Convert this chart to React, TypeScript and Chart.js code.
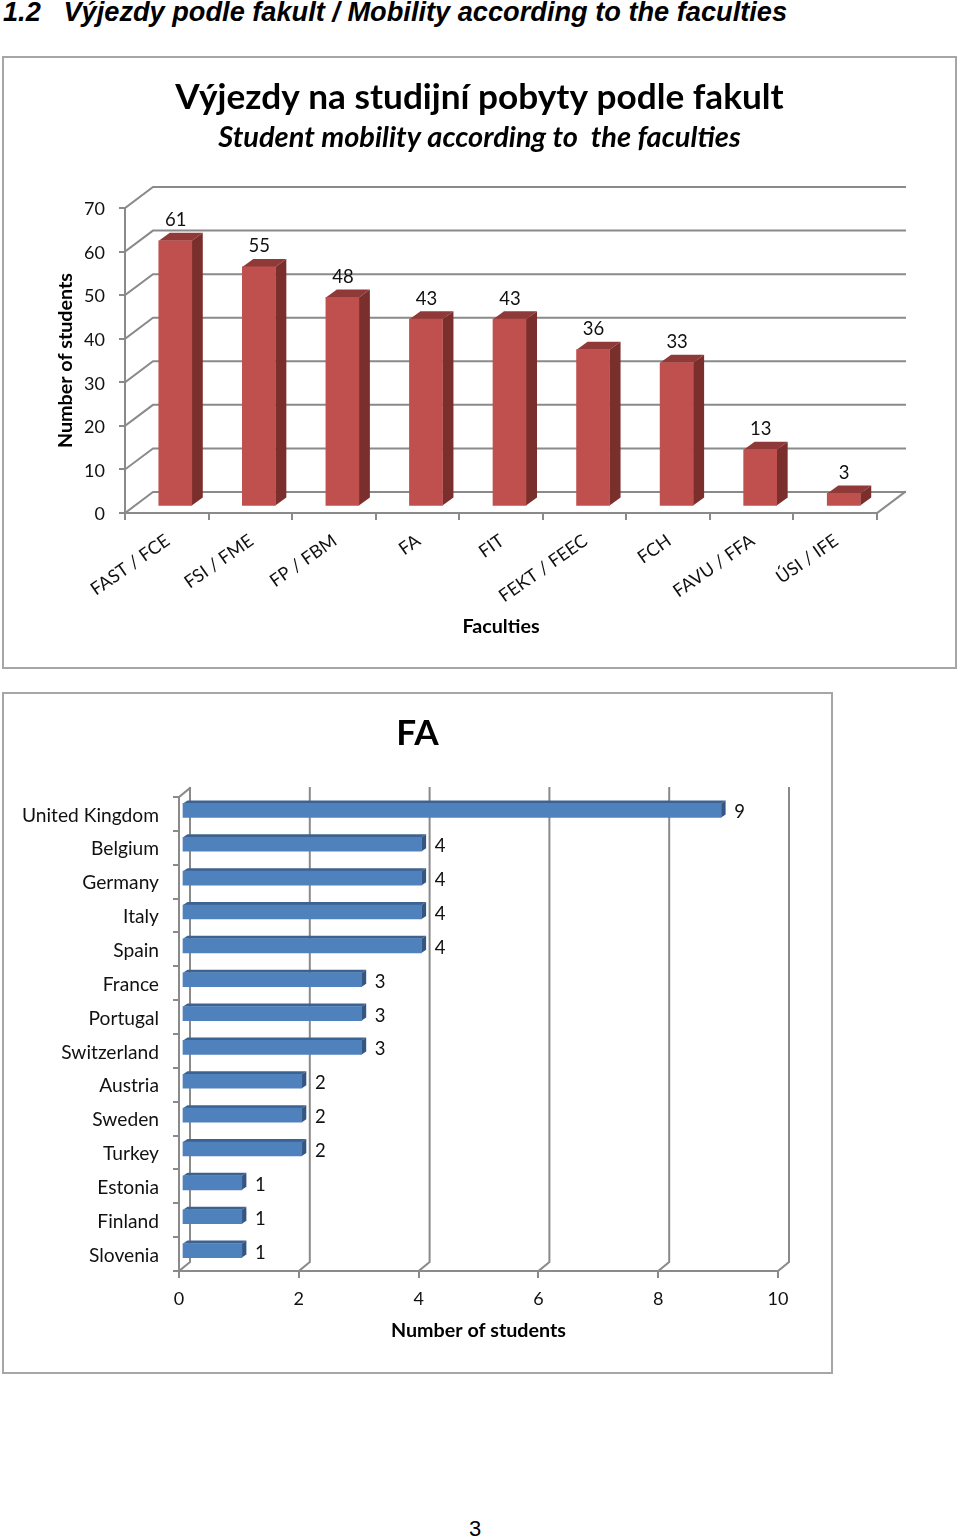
import React, { useEffect, useRef } from "react";
import { Chart, registerables } from "chart.js";

Chart.register(...registerables);

const facultyLabels = ["FAST / FCE", "FSI / FME", "FP / FBM", "FA", "FIT", "FEKT / FEEC", "FCH", "FAVU / FFA", "ÚSI / IFE"];
const facultyValues = [61, 55, 48, 43, 43, 36, 33, 13, 3];
const countryLabels = ["United Kingdom", "Belgium", "Germany", "Italy", "Spain", "France", "Portugal", "Switzerland", "Austria", "Sweden", "Turkey", "Estonia", "Finland", "Slovenia"];
const countryValues = [9, 4, 4, 4, 4, 3, 3, 3, 2, 2, 2, 1, 1, 1];
const mainTitle = "Výjezdy na studijní pobyty podle fakult";
const subTitle = "Student mobility according to  the faculties";
const secondTitle = "FA";
const headingText = "1.2   Výjezdy podle fakult / Mobility according to the faculties";

const FONT = "Lato, Carlito, sans-serif";
const GRID = "#8a8a8a";
const FRAME = "#a6a6a6";

type Look = {
  wall: [number, number];
  shift: [number, number];
  depth: [number, number];
  top: string;
  side: string;
  label: [number, number];
  labelFont: string;
};

const look3d = {
  id: "look3d",
  beforeDatasetsDraw(chart: any, _a: any, o: Look) {
    const { ctx, chartArea: ca, scales } = chart;
    const [wx, wy] = o.wall;
    ctx.save();
    ctx.strokeStyle = GRID;
    ctx.lineWidth = 2;
    ctx.lineCap = "square";
    const line = (pts: number[][]) => {
      ctx.beginPath();
      pts.forEach((p, i) => (i ? ctx.lineTo(p[0], p[1]) : ctx.moveTo(p[0], p[1])));
      ctx.stroke();
    };
    if (chart.options.indexAxis === "y") {
      scales.x.ticks.forEach((_t: any, i: number) => {
        const x = scales.x.getPixelForTick(i);
        line([[x, ca.bottom], [x + wx, ca.bottom + wy], [x + wx, ca.top + wy]]);
      });
      line([[ca.left, ca.top], [ca.left + wx, ca.top + wy]]);
    } else {
      scales.y.ticks.forEach((_t: any, i: number) => {
        const y = scales.y.getPixelForTick(i);
        line([[ca.left, y], [ca.left + wx, y + wy], [ca.right + wx, y + wy]]);
      });
      line([[ca.right, ca.bottom], [ca.right + wx, ca.bottom + wy]]);
    }
    ctx.restore();
  },
  beforeDatasetDraw(chart: any, args: any, o: Look) {
    const ctx = chart.ctx;
    const [dx, dy] = o.depth;
    ctx.save();
    ctx.translate(o.shift[0], o.shift[1]);
    args.meta.data.forEach((el: any) => {
      const p = el.getProps(["x", "y", "base", "width", "height"], true);
      const h = chart.options.indexAxis === "y";
      const l = h ? p.base : p.x - p.width / 2;
      const r = h ? p.x : p.x + p.width / 2;
      const t = h ? p.y - p.height / 2 : p.y;
      const b = h ? p.y + p.height / 2 : p.base;
      ctx.fillStyle = o.top;
      ctx.beginPath();
      ctx.moveTo(l, t);
      ctx.lineTo(l + dx, t + dy);
      ctx.lineTo(r + dx, t + dy);
      ctx.lineTo(r, t);
      ctx.closePath();
      ctx.fill();
      ctx.fillStyle = o.side;
      ctx.beginPath();
      ctx.moveTo(r, t);
      ctx.lineTo(r + dx, t + dy);
      ctx.lineTo(r + dx, b + dy);
      ctx.lineTo(r, b);
      ctx.closePath();
      ctx.fill();
    });
  },
  afterDatasetDraw(chart: any, args: any, o: Look) {
    const ctx = chart.ctx;
    ctx.restore();
    ctx.save();
    ctx.fillStyle = "#111";
    ctx.font = o.labelFont;
    ctx.textAlign = "center";
    ctx.textBaseline = "middle";
    const values = chart.data.datasets[args.index].data;
    args.meta.data.forEach((el: any, i: number) => {
      const p = el.getProps(["x", "y"], true);
      ctx.fillText(String(values[i]), p.x + o.label[0], p.y + o.label[1]);
    });
    ctx.restore();
  },
};

function useChart(make: (c: HTMLCanvasElement) => Chart) {
  const ref = useRef<HTMLCanvasElement | null>(null);
  useEffect(() => {
    const chart = make(ref.current!);
    return () => chart.destroy();
  }, []);
  return ref;
}

const tickFont = { family: FONT, size: 18 };
const nameFont = { family: FONT, size: 19.2 };
const axisTitleFont = { family: FONT, size: 19.7, weight: "bold" as const };

const spacer = (width: number) => ({
  type: "linear",
  position: "right",
  afterFit: (s: any) => { s.width = width; },
  border: { display: false },
  grid: { display: false },
  ticks: { display: false },
});

function makeFaculties(canvas: HTMLCanvasElement) {
  return new Chart(canvas, {
    type: "bar",
    data: {
      labels: facultyLabels,
      datasets: [{ data: facultyValues, backgroundColor: "#c0504d", barThickness: 33, clip: false } as any],
    },
    plugins: [look3d],
    options: {
      animation: false,
      responsive: false,
      layout: { padding: { left: 0, right: 0, top: 0, bottom: 30 } },
      plugins: {
        legend: { display: false },
        tooltip: { enabled: false },
        title: { display: true, text: mainTitle, color: "#000", font: { family: FONT, size: 35.2, weight: "bold" }, padding: { top: 20, bottom: 0 } },
        subtitle: { display: true, text: subTitle, color: "#000", font: { family: FONT, size: 29, weight: "bold", style: "italic" }, padding: { top: 1.4, bottom: 52.6 } },
        look3d: {
          wall: [28, -21], shift: [8.5, -6.5], depth: [11, -8], top: "#8f3a38", side: "#7b2f2d",
          label: [9, -27], labelFont: `18.5px ${FONT}`,
        },
      } as any,
      scales: {
        x: {
          afterFit: (s: any) => { s.height = 125; },
          border: { color: GRID, width: 2 },
          grid: { drawOnChartArea: false, color: GRID, lineWidth: 2, tickLength: 7 },
          ticks: { color: "#111", font: tickFont, autoSkip: false, minRotation: 35, maxRotation: 35, padding: 10, labelOffset: 1 },
          title: { display: true, text: "Faculties", color: "#000", font: axisTitleFont, padding: 0 },
        },
        y: {
          min: 0, max: 70,
          afterFit: (s: any) => { s.width = 122; },
          border: { color: GRID, width: 2 },
          grid: { drawOnChartArea: false, color: GRID, lineWidth: 2, tickLength: 6 },
          ticks: { color: "#111", font: tickFont, stepSize: 10, padding: 14, labelOffset: 1.5 },
          title: { display: true, text: "Number of students", color: "#000", font: axisTitleFont, padding: { top: 51, bottom: 0 } },
        },
        y2: spacer(79),
      },
    } as any,
  });
}

function makeCountries(canvas: HTMLCanvasElement) {
  return new Chart(canvas, {
    type: "bar",
    data: {
      labels: countryLabels,
      datasets: [{ data: countryValues, backgroundColor: "#4f81bd", barThickness: 14, clip: false } as any],
    },
    plugins: [look3d],
    options: {
      indexAxis: "y",
      animation: false,
      responsive: false,
      layout: { padding: { left: 0, right: 0, top: 0, bottom: 31 } },
      plugins: {
        legend: { display: false },
        tooltip: { enabled: false },
        title: { display: true, text: secondTitle, color: "#000", font: { family: FONT, size: 35.2, weight: "bold" }, padding: { top: 20, bottom: 41.76 } },
        look3d: {
          wall: [11, -9], shift: [3, -3.5], depth: [4.5, -3], top: "#3c6291", side: "#345680",
          label: [21.5, -1.5], labelFont: `18.5px ${FONT}`,
        },
      } as any,
      scales: {
        x: {
          min: 0, max: 10,
          afterFit: (s: any) => { s.height = 71; },
          border: { color: GRID, width: 2 },
          grid: { drawOnChartArea: false, color: GRID, lineWidth: 2, tickLength: 7 },
          ticks: { color: "#111", font: tickFont, stepSize: 2, padding: 10, maxRotation: 0 },
          title: { display: true, text: "Number of students", color: "#000", font: axisTitleFont, padding: 0 },
        },
        y: {
          afterFit: (s: any) => { s.width = 176; },
          border: { color: GRID, width: 2 },
          grid: { drawOnChartArea: false, color: GRID, lineWidth: 2, tickLength: 6 },
          ticks: { color: "#111", font: nameFont, autoSkip: false, padding: 14, labelOffset: 1.5 },
        },
        y2: spacer(54),
      },
    } as any,
  });
}

const abs = (left: number, top: number, width: number, height: number): React.CSSProperties => ({
  position: "absolute", left, top, width, height, display: "block", boxSizing: "border-box",
});

export default function App() {
  const a = useChart(makeFaculties);
  const b = useChart(makeCountries);
  return (
    <div style={{ position: "absolute", left: 0, top: 0, width: 960, height: 1537, overflow: "hidden", background: "#fff" }}>
      <div style={{ position: "absolute", left: 3, top: -4, whiteSpace: "pre", font: "italic bold 27.2px 'Liberation Sans', sans-serif", color: "#000" }}>{headingText}</div>
      <canvas ref={a} width={953} height={611} style={abs(3, 57, 953, 611)} />
      <div style={{ ...abs(2, 56, 955, 613), border: `2px solid ${FRAME}` }} />
      <canvas ref={b} width={829} height={680} style={abs(3, 693, 829, 680)} />
      <div style={{ ...abs(2, 692, 831, 682), border: `2px solid ${FRAME}` }} />
      <div style={{ position: "absolute", left: 469, top: 1516, font: "22px 'Liberation Sans', sans-serif", color: "#000" }}>3</div>
    </div>
  );
}
